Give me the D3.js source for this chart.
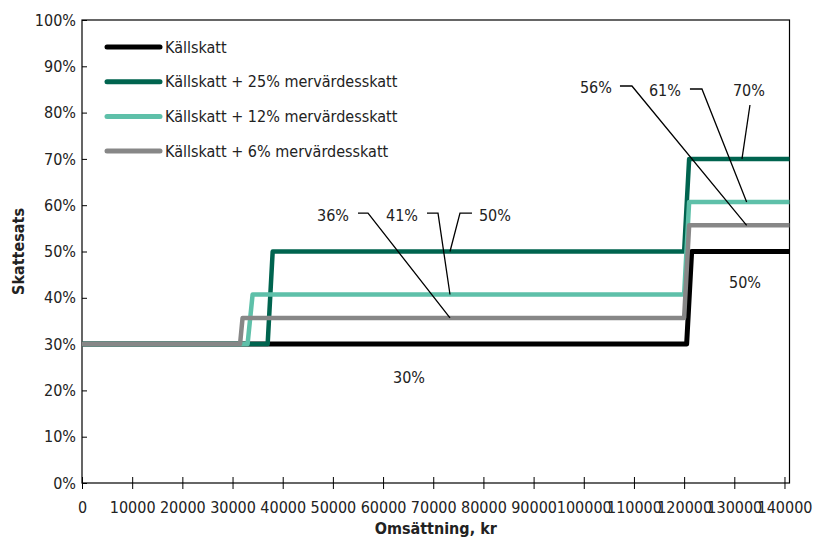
<!DOCTYPE html>
<html>
<head>
<meta charset="utf-8">
<script src="https://cdn.jsdelivr.net/npm/d3@7"></script>
<style>
  body { margin: 0; background: #fff; }
  svg text { font-family: "Liberation Sans Narrow", "Arial Narrow", "DejaVu Sans Condensed", sans-serif; fill: #222; }
</style>
</head>
<body>
<div id="chart"></div>
<script>
let width = 813, height = 537;

// series names (legend order)
const seriesNames = ["Källskatt",
                     "Källskatt + 25% mervärdesskatt",
                     "Källskatt + 12% mervärdesskatt",
                     "Källskatt + 6% mervärdesskatt"];
const seriesColors = ["#000000", "#00644f", "#5ec0a9", "#878787"];

// breakpoints: omsättning (kr) and skattesats
const omsKallskatt = [0, 120500, 121500, 141000];
const skattKallskatt = [0.30, 0.30, 0.50, 0.50];
const omsMoms25 = [0, 37000, 38000, 120000, 121000, 141000];
const skattMoms25 = [0.30, 0.30, 0.50, 0.50, 0.70, 0.70];
const omsMoms12 = [0, 33000, 34000, 120000, 121000, 141000];
const skattMoms12 = [0.30, 0.30, 0.4071, 0.4071, 0.6071, 0.6071];
const omsMoms6 = [0, 31500, 32000, 120000, 121000, 141000];
const skattMoms6 = [0.30, 0.30, 0.3566, 0.3566, 0.5566, 0.5566];

const xTicks = [0, 10000, 20000, 30000, 40000, 50000, 60000, 70000, 80000,
                90000, 100000, 110000, 120000, 130000, 140000];
const yTicks = [0, 0.1, 0.2, 0.3, 0.4, 0.5, 0.6, 0.7, 0.8, 0.9, 1.0];

// data labels: text, position [kr, sats], leader line points
const labelTexts = ["36%", "41%", "50%", "56%", "61%", "70%", "50%", "30%"];
const labelPos = [[50020, 0.577], [63770, 0.577], [82300, 0.577],
                  [102430, 0.855], [116180, 0.849], [132920, 0.847],
                  [132130, 0.434], [65170, 0.229]];
const labelLeaders = [
  [[55000, 0.583], [57000, 0.583], [73340, 0.3566]],
  [[68750, 0.583], [70950, 0.583], [73340, 0.4071]],
  [[77720, 0.583], [75330, 0.583], [73340, 0.50]],
  [[107210, 0.8575], [109600, 0.8575], [132460, 0.5566]],
  [[121160, 0.851], [123550, 0.851], [132460, 0.6071]],
  [[133120, 0.8164], [131530, 0.70]],
  null, null];

const plot = {left: 82, right: 789.5, top: 20, bottom: 483};

let svg = d3.select('#chart').append('svg')
  .attr('width', width)
  .attr('height', height);

let x = d3.scaleLinear().domain([0, 141000]).range([plot.left, plot.right]);
let y = d3.scaleLinear().domain([0, 1]).range([plot.bottom, plot.top]);

// frame
svg.append('rect')
  .attr('x', plot.left).attr('y', plot.top)
  .attr('width', plot.right - plot.left).attr('height', plot.bottom - plot.top)
  .attr('fill', 'none').attr('stroke', '#000').attr('stroke-width', 1.2);

// y axis (ticks inside)
let yAxis = svg.append('g')
  .attr('transform', 'translate(' + plot.left + ',0)')
  .call(d3.axisRight(y).tickValues(yTicks).tickSize(5).tickFormat(''));
yAxis.select('.domain').remove();
yAxis.selectAll('line').attr('stroke', '#000');

svg.selectAll('.ylab').data(yTicks).enter().append('text')
  .attr('class', 'ylab')
  .attr('x', plot.left - 6)
  .attr('y', function(d){ return y(d); })
  .attr('dy', '0.35em')
  .attr('text-anchor', 'end')
  .attr('font-size', 16)
  .text(d3.format('.0%'));

// x axis (ticks cross)
let xAxis = svg.append('g')
  .attr('transform', 'translate(0,' + (plot.bottom + 6) + ')')
  .call(d3.axisBottom(x).tickValues(xTicks).tickSize(12).tickFormat(d3.format('d')));
xAxis.select('.domain').remove();
xAxis.selectAll('.tick line').attr('stroke', '#000').attr('y1', -12).attr('y2', 0);
xAxis.selectAll('.tick text')
  .attr('y', 18).attr('dy', '0.35em')
  .attr('font-size', 16).attr('fill', '#222')
  .style('font-family', '"Liberation Sans Narrow", "Arial Narrow", "DejaVu Sans Condensed", sans-serif');

// axis titles
svg.append('text')
  .attr('transform', 'translate(18,' + ((plot.top + plot.bottom) / 2) + ') rotate(-90)')
  .attr('text-anchor', 'middle').attr('dy', '0.35em')
  .attr('font-size', 16).attr('font-weight', 'bold')
  .text('Skattesats');
svg.append('text')
  .attr('x', (plot.left + plot.right) / 2).attr('y', 528)
  .attr('text-anchor', 'middle').attr('dy', '0.35em')
  .attr('font-size', 16).attr('font-weight', 'bold')
  .text('Omsättning, kr');

// series
const seriesData = [
  d3.zip(omsKallskatt, skattKallskatt),
  d3.zip(omsMoms25, skattMoms25),
  d3.zip(omsMoms12, skattMoms12),
  d3.zip(omsMoms6, skattMoms6)
];
let line = d3.line()
  .x(function(d){ return x(d[0]); })
  .y(function(d){ return y(d[1]); });

svg.selectAll('.serie').data(seriesData).enter().append('path')
  .attr('class', 'serie')
  .attr('d', line)
  .attr('fill', 'none')
  .attr('stroke', function(d, i){ return seriesColors[i]; })
  .attr('stroke-width', function(d, i){ return i === 0 ? 5 : 4.5; })
  .attr('stroke-linejoin', 'round');

// legend
let legend = svg.selectAll('.legend').data(seriesNames).enter().append('g')
  .attr('class', 'legend')
  .attr('transform', function(d, i){ return 'translate(107,' + (47 + i * 34.7) + ')'; });
legend.append('line')
  .attr('x1', 0).attr('x2', 53)
  .attr('stroke', function(d, i){ return seriesColors[i]; })
  .attr('stroke-width', 5).attr('stroke-linecap', 'round');
legend.append('text')
  .attr('x', 58).attr('dy', '0.35em')
  .attr('font-size', 16)
  .text(function(d){ return d; });

// data labels with leader lines
let leaderLine = d3.line()
  .x(function(d){ return x(d[0]); })
  .y(function(d){ return y(d[1]); });
labelLeaders.forEach(function(pts){
  if (!pts) return;
  svg.append('path')
    .attr('d', leaderLine(pts))
    .attr('fill', 'none').attr('stroke', '#000').attr('stroke-width', 1.3);
});
svg.selectAll('.dlab').data(labelTexts).enter().append('text')
  .attr('class', 'dlab')
  .attr('x', function(d, i){ return x(labelPos[i][0]); })
  .attr('y', function(d, i){ return y(labelPos[i][1]); })
  .attr('dy', '0.35em')
  .attr('text-anchor', 'middle')
  .attr('font-size', 16)
  .text(function(d){ return d; });
</script>
</body>
</html>
